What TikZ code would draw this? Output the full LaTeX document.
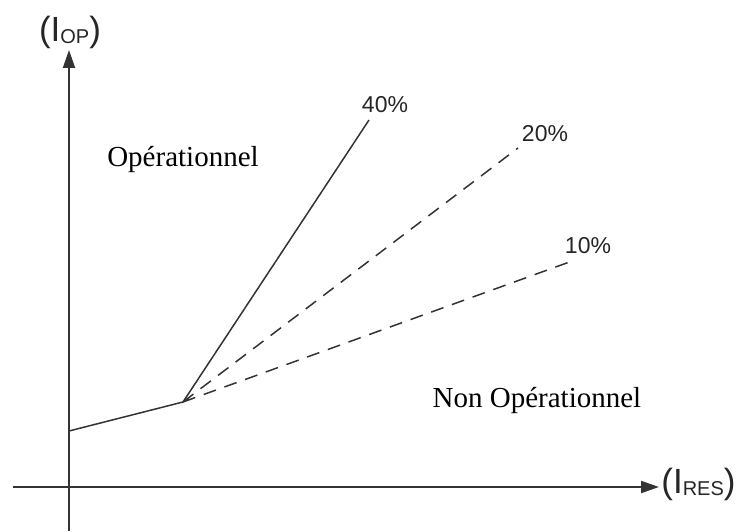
\documentclass[tikz,border=0pt]{standalone}
\usepackage{fontspec}
\setmainfont{Liberation Serif}
\newfontfamily\labelfont{Liberation Sans}
\usetikzlibrary{arrows.meta}

\begin{document}
\begin{tikzpicture}[x=0.5pt,y=0.5pt,
    axis/.style={draw=black!80,line width=1pt,-{Triangle[length=9pt,width=6pt]}},
    curve/.style={draw=black!80,line width=0.75pt},
    dcurve/.style={curve,dash pattern=on 6.5pt off 4.5pt},
    pct/.style={font=\labelfont\fontsize{11.5}{13}\selectfont,text=black!85,inner sep=0pt},
    axlabel/.style={font=\labelfont\fontsize{17.5}{20}\selectfont,text=black!85,inner sep=0pt},
    zone/.style={font=\fontsize{14.5}{17}\selectfont,inner sep=0pt},
   ]
   \useasboundingbox (0,0) rectangle (740,531);
   % axes
   \path (69,0) coordinate (ybot) (69,481) coordinate (ytop)
     (13,44) coordinate (xleft) (659,44) coordinate (xright);
   \draw[axis] (ybot) -- (ytop);
   \draw[axis] (xleft) -- (xright);
   \node[axlabel] (iop) at (70,499)
     {(I\raisebox{-1pt}{\fontsize{10}{12}\selectfont OP})};
   \node[axlabel,anchor=base west] (ires) at (661,38)
     {(I\raisebox{-1pt}{\fontsize{10}{12}\selectfont RES})};
   % characteristic
   \path (69,100) coordinate (S) (183,129) coordinate (K)
     (369,411) coordinate (e40) (518,383) coordinate (e20)
     (575,271) coordinate (e10);
   \draw[curve] (S) -- (K) -- (e40);
   \draw[dcurve] (K) -- (e20) (K) -- (e10);
   \node[pct] (l40) at (385,426) {40\%};
   \node[pct] (l20) at (545,397) {20\%};
   \node[pct] (l10) at (588,285) {10\%};
   % zones
   \node[zone,anchor=base] (op) at (183,364) {Opérationnel};
   \node[zone,anchor=base] (nop) at (537,123) {Non Opérationnel};
\end{tikzpicture}
\end{document}
